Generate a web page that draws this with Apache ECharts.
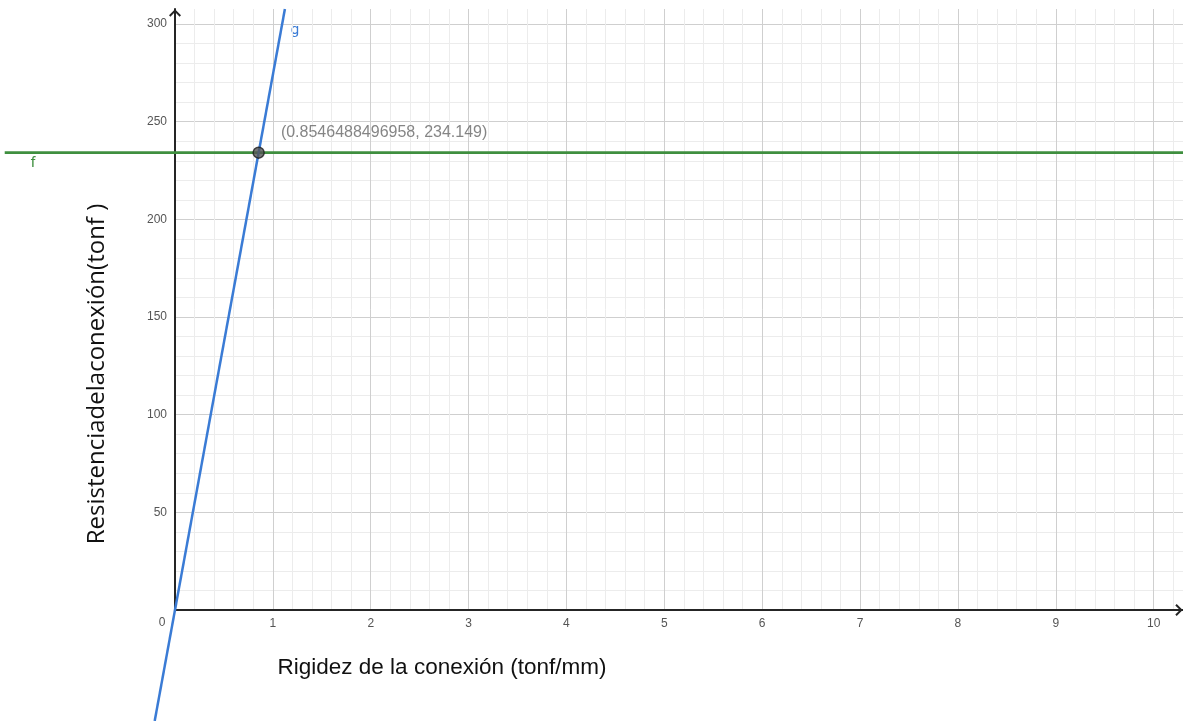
<!DOCTYPE html>
<html>
<head>
<meta charset="utf-8">
<script src="https://cdn.jsdelivr.net/npm/echarts@6/dist/echarts.min.js"></script>
<style>
  html, body { margin: 0; padding: 0; background: #fff; }
  #chart { width: 1183px; height: 721px; }
</style>
</head>
<body>
<div id="chart"></div>
<script>
// line g (two ends, it runs through the origin)
const gPoints = [[-0.2075, -56.8], [1.123, 307.7]]
// line f, horizontal at y = 234.149
const fPoints = [[-1.74, 234.149], [10.3, 234.149]]
// intersection point
const crossPoint = [[0.8546488496958, 234.149]]
const xRange = [0, 10.3]
const yRange = [0, 307.7]

const W = 1183, H = 721
const box = { left: 175, right: 0, top: 9, bottom: 111 }
// second, invisible grid over the whole canvas with the same scale, so the lines
// can run past the first quadrant like in the reference
const xPx = (W - box.left - box.right) / (xRange[1] - xRange[0])
const yPx = (H - box.top - box.bottom) / (yRange[1] - yRange[0])
const xFull = [xRange[0] - box.left / xPx, xRange[1] + box.right / xPx]
const yFull = [yRange[0] - box.bottom / yPx, yRange[1] + box.top / yPx]

const chart = echarts.init(document.getElementById('chart'))

const labelFont = 'Liberation Sans, Arial, sans-serif'
const arrow = 'path://M0,6 L6,0 L12,6 L10.6,7.4 L6,2.8 L1.4,7.4 Z'

const minorAxis = (range, step, position) => ({
  type: 'value',
  gridIndex: 0,
  position,
  min: range[0],
  max: range[1],
  interval: step,
  axisLine: { show: false },
  axisTick: { show: false },
  axisLabel: { show: false },
  splitLine: { show: true, showMinLine: false, showMaxLine: false, lineStyle: { color: '#ececec', width: 1 } },
})

const mainAxis = (range, step, position) => ({
  type: 'value',
  gridIndex: 0,
  position,
  min: range[0],
  max: range[1],
  interval: step,
  axisLine: {
    show: true,
    onZero: false,
    symbol: ['none', arrow],
    symbolSize: [12, 7.4],
    symbolOffset: [0, -4],
    lineStyle: { color: '#252525', width: 2 },
  },
  axisTick: { show: false },
  axisLabel: {
    color: '#555',
    fontSize: 12,
    fontFamily: labelFont,
    margin: 8,
    showMaxLabel: false,
    formatter: (v) => (v === 0 ? '' : String(v)),
  },
  splitLine: { show: true, showMinLine: false, showMaxLine: false, lineStyle: { color: '#cfcfcf', width: 1 } },
})

const hiddenAxis = (range) => ({
  type: 'value',
  gridIndex: 1,
  min: range[0],
  max: range[1],
  show: false,
  splitLine: { show: false },
})

chart.setOption({
  backgroundColor: '#fff',
  animation: false,
  grid: [
    { ...box, containLabel: false, outerBoundsMode: 'none' },
    { left: 0, right: 0, top: 0, bottom: 0, containLabel: false, outerBoundsMode: 'none' },
  ],
  xAxis: [minorAxis(xRange, 0.2, 'bottom'), mainAxis(xRange, 1, 'bottom'), hiddenAxis(xFull)],
  yAxis: [minorAxis(yRange, 10, 'left'), mainAxis(yRange, 50, 'left'), hiddenAxis(yFull)],
  series: [
    {
      name: 'f',
      type: 'line',
      xAxisIndex: 2,
      yAxisIndex: 2,
      symbol: 'none',
      data: fPoints,
      lineStyle: { color: '#3f8f3f', width: 2.8 },
      z: 3,
    },
    {
      name: 'g',
      type: 'line',
      xAxisIndex: 2,
      yAxisIndex: 2,
      symbol: 'none',
      data: gPoints,
      lineStyle: { color: '#3a7bd5', width: 2.5 },
      z: 4,
    },
    {
      name: 'A',
      type: 'scatter',
      xAxisIndex: 2,
      yAxisIndex: 2,
      data: crossPoint,
      symbolSize: 11,
      itemStyle: { color: '#555555', borderColor: '#1e1e1e', borderWidth: 1.5 },
      label: {
        show: true,
        position: 'right',
        offset: [11, -20],
        color: '#666',
        fontSize: 16,
        fontFamily: labelFont,
        formatter: (p) => '(' + p.value[0] + ', ' + p.value[1] + ')',
      },
      z: 5,
    },
  ],
  graphic: [
    { type: 'text', x: 162, y: 623, style: { text: '0', fill: '#555', font: '12px ' + labelFont, textAlign: 'center', textVerticalAlign: 'middle' } },
    { type: 'text', x: 295, y: 30, style: { text: 'g', fill: '#3a7bd5', font: '15px Roboto, sans-serif', textAlign: 'center', textVerticalAlign: 'middle' } },
    { type: 'text', x: 33, y: 163, style: { text: 'f', fill: '#3f8f3f', font: '15px Roboto, sans-serif', textAlign: 'center', textVerticalAlign: 'middle' } },
    { type: 'text', x: 442, y: 668, style: { text: 'Rigidez de la conexión (tonf/mm)', fill: '#111', font: '22.5px ' + labelFont, textAlign: 'center', textVerticalAlign: 'middle' } },
    {
      type: 'text',
      x: 97,
      y: 374,
      rotation: Math.PI / 2,
      style: { text: 'Resistenciadelaconexión(tonf )', fill: '#111', font: '24px "Open Sans", sans-serif', textAlign: 'center', textVerticalAlign: 'middle' },
    },
  ],
})
</script>
</body>
</html>
